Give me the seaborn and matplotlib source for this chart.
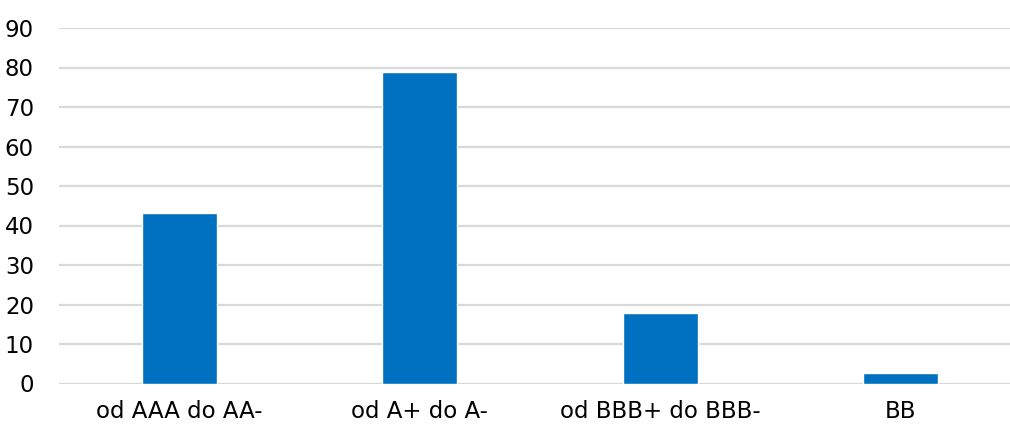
import matplotlib
matplotlib.use("Agg")
import matplotlib.pyplot as plt
import seaborn as sns
import pandas as pd

# Rating groups and their values
categories = ["od AAA do AA-", "od A+ do A-", "od BBB+ do BBB-", "BB"]
values = [43.1, 78.8, 17.9, 2.6]
yticks = [0, 10, 20, 30, 40, 50, 60, 70, 80, 90]

df = pd.DataFrame({"category": categories, "value": values})

sns.set_style("white")
plt.rcParams["font.family"] = ["DejaVu Sans"]

fig = plt.figure(figsize=(10.10, 4.26), dpi=100)
ax = fig.add_axes([59 / 1010, 42.5 / 426, 962 / 1010, 355.5 / 426])

sns.barplot(data=df, x="category", y="value", color="#0070C0",
            width=0.31, saturation=1, ax=ax, zorder=3)

ax.set_ylim(0, 90)
ax.set_yticks(yticks)
ax.set_xlim(-0.5, len(categories) - 0.5)
ax.grid(axis="y", color="#D9D9D9", linewidth=1.6, zorder=0)
ax.set_axisbelow(True)
sns.despine(ax=ax, left=True, bottom=True)
ax.set_xlabel("")
ax.set_ylabel("")
ax.tick_params(axis="y", length=0, pad=18, labelsize=16.5, colors="#000000")
ax.tick_params(axis="x", length=0, pad=12, labelsize=16.5, colors="#000000")

fig.savefig("out.png", dpi=100)
